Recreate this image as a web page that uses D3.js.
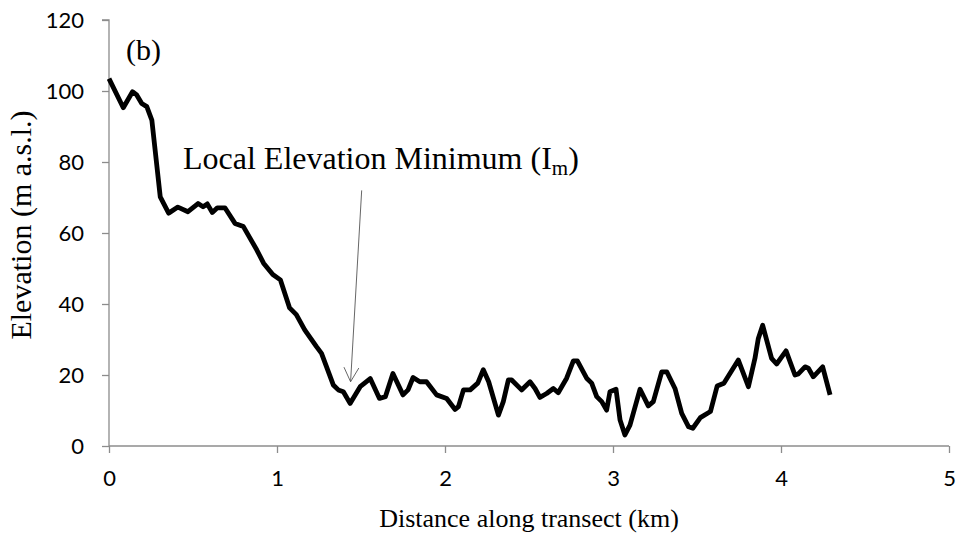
<!DOCTYPE html>
<html>
<head>
<meta charset="utf-8">
<script src="https://cdn.jsdelivr.net/npm/d3@7"></script>
<style>
  html, body { margin: 0; padding: 0; background: #fff; }
  svg { display: block; }
</style>
</head>
<body>
<svg id="chart" width="956" height="535"></svg>
<script>
// Elevation profile along the transect
const distanceKm = [
  0.00, 0.085, 0.14, 0.165, 0.195, 0.225, 0.255, 0.305, 0.355, 0.41,
  0.47, 0.53, 0.56, 0.585, 0.615, 0.645, 0.69, 0.75, 0.80, 0.88,
  0.92, 0.975, 1.02, 1.075, 1.115, 1.165, 1.235, 1.265, 1.335, 1.365,
  1.395, 1.435, 1.495, 1.555, 1.61, 1.645, 1.69, 1.75, 1.78, 1.81,
  1.85, 1.89, 1.95, 2.01, 2.06, 2.08, 2.11, 2.15, 2.195, 2.228,
  2.26, 2.318, 2.347, 2.377, 2.397, 2.456, 2.506, 2.536, 2.565, 2.605,
  2.645, 2.674, 2.724, 2.764, 2.788, 2.843, 2.873, 2.903, 2.933, 2.962,
  2.982, 3.018, 3.042, 3.071, 3.101, 3.161, 3.21, 3.24, 3.29, 3.32,
  3.369, 3.409, 3.45, 3.475, 3.52, 3.58, 3.62, 3.66, 3.746, 3.806,
  3.845, 3.865, 3.891, 3.944, 3.974, 4.03, 4.083, 4.103, 4.143, 4.163,
  4.192, 4.248, 4.292
];
const elevationM = [
  103.5, 95.3, 99.8, 98.9, 96.5, 95.6, 91.8, 70.2, 65.6, 67.3,
  66.0, 68.3, 67.4, 68.2, 65.8, 67.1, 67.1, 62.7, 61.8, 55.2,
  51.5, 48.3, 46.8, 38.9, 37.0, 32.7, 28.0, 26.1, 17.2, 15.8,
  15.3, 12.0, 16.7, 19.0, 13.4, 13.9, 20.4, 14.4, 15.8, 19.3,
  18.1, 18.1, 14.4, 13.4, 10.3, 11.1, 15.8, 15.8, 17.7, 21.5,
  18.1, 8.7, 12.5, 18.6, 18.6, 15.8, 18.1, 16.2, 13.7, 14.8,
  16.2, 15.0, 19.1, 24.0, 24.0, 19.1, 17.7, 13.9, 12.5, 10.1,
  15.3, 16.0, 7.3, 3.1, 5.9, 16.0, 11.3, 12.5, 20.9, 20.9,
  16.2, 9.2, 5.4, 5.0, 8.0, 9.7, 16.9, 17.7, 24.2, 16.7,
  24.7, 30.3, 34.0, 24.7, 23.1, 26.8, 20.0, 20.3, 22.3, 21.9,
  19.5, 22.3, 14.4
];

const xTicks = [0, 1, 2, 3, 4, 5];
const yTicks = [0, 20, 40, 60, 80, 100, 120];

// Annotation arrow: label end -> local minimum
const arrowFrom = [1.504, 72.0];
const arrowTo = [1.438, 18.1];

const svg = d3.select("#chart");
const W = 956, H = 535;
const margin = { top: 20, right: 7, bottom: 89, left: 109 };

const x = d3.scaleLinear().domain([0, 5]).range([margin.left, W - margin.right]);
const y = d3.scaleLinear().domain([0, 120]).range([H - margin.bottom, margin.top]);

const axisColor = "#8c8c8c";
const tickFont = "Lato, 'Open Sans', sans-serif";
const serif = "'Liberation Serif', 'Times New Roman', serif";

// Y axis
const yAxis = svg.append("g")
  .attr("transform", `translate(${margin.left},0)`)
  .call(d3.axisLeft(y).tickValues(yTicks).tickSize(7).tickPadding(18).tickFormat(d3.format("d")));
yAxis.selectAll("path, line").attr("stroke", axisColor).attr("stroke-width", 1.3);
yAxis.select(".domain").attr("d", `M-7,${y(120)}H0V${y(0)}`);
yAxis.selectAll("text").attr("font-family", tickFont).attr("font-size", 22).attr("fill", "#000");

// X axis
const xAxis = svg.append("g")
  .attr("transform", `translate(0,${y(0)})`)
  .call(d3.axisBottom(x).tickValues(xTicks).tickSize(7).tickPadding(17).tickFormat(d3.format("d")));
xAxis.selectAll("path, line").attr("stroke", axisColor).attr("stroke-width", 1.3);
xAxis.select(".domain").attr("d", `M${x(0)},0H${x(5)}`);
xAxis.selectAll("text").attr("font-family", tickFont).attr("font-size", 22).attr("fill", "#000");

// Axis titles
svg.append("text")
  .attr("x", (x(0) + x(5)) / 2)
  .attr("y", 527)
  .attr("text-anchor", "middle")
  .attr("font-family", serif)
  .attr("font-size", 26)
  .text("Distance along transect (km)");

svg.append("text")
  .attr("transform", `translate(31,${(y(0) + y(120)) / 2 - 8}) rotate(-90)`)
  .attr("text-anchor", "middle")
  .attr("font-family", serif)
  .attr("font-size", 30)
  .text("Elevation (m a.s.l.)");

// Panel label
svg.append("text")
  .attr("x", 126)
  .attr("y", 60)
  .attr("font-family", serif)
  .attr("font-size", 30)
  .text("(b)");

// Profile line
const pts = distanceKm.map((d, i) => [d, elevationM[i]]);
svg.append("path")
  .datum(pts)
  .attr("fill", "none")
  .attr("stroke", "#000")
  .attr("stroke-width", 4.8)
  .attr("stroke-linejoin", "round")
  .attr("stroke-linecap", "butt")
  .attr("d", d3.line().x(d => x(d[0])).y(d => y(d[1])));

// Annotation text
const label = svg.append("text")
  .attr("x", 183)
  .attr("y", 169)
  .attr("font-family", serif)
  .attr("font-size", 32)
  .attr("fill", "#000");
label.append("tspan").text("Local Elevation Minimum (I");
label.append("tspan").attr("font-size", 21).attr("dy", 6).text("m");
label.append("tspan").attr("dy", -6).text(")");

// Annotation arrow with open head
const ax0 = x(arrowFrom[0]), ay0 = y(arrowFrom[1]);
const ax1 = x(arrowTo[0]), ay1 = y(arrowTo[1]);
const ang = Math.atan2(ay1 - ay0, ax1 - ax0);
const headLen = 16, headSpread = Math.PI / 6.5;
svg.append("line")
  .attr("x1", ax0).attr("y1", ay0).attr("x2", ax1).attr("y2", ay1)
  .attr("stroke", "#555").attr("stroke-width", 0.9);
svg.append("path")
  .attr("d",
    `M${ax1 - headLen * Math.cos(ang - headSpread)},${ay1 - headLen * Math.sin(ang - headSpread)}` +
    `L${ax1},${ay1}` +
    `L${ax1 - headLen * Math.cos(ang + headSpread)},${ay1 - headLen * Math.sin(ang + headSpread)}`)
  .attr("fill", "none").attr("stroke", "#555").attr("stroke-width", 0.9);
</script>
</body>
</html>
